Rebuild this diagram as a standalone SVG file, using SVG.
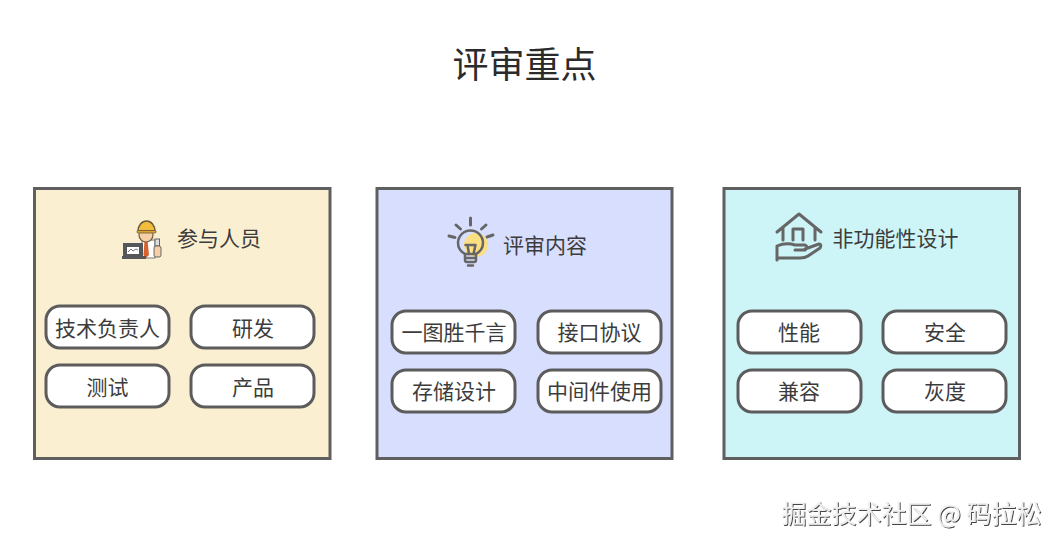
<svg xmlns="http://www.w3.org/2000/svg" width="1059" height="546" viewBox="0 0 1059 546">
<style>
text{font-family:"Noto Sans CJK SC","Liberation Sans",sans-serif;fill:#3c3c3c;text-anchor:middle}
.panel{stroke:#5f5f5f;stroke-width:3}
.item{fill:#fff;stroke:#5c5c5c;stroke-width:3}
.t{font-size:21px}
.ic{fill:none;stroke:#666;stroke-width:3;stroke-linecap:round;stroke-linejoin:round}
.b{stroke-width:2.500}
</style>
<defs>
<filter id="emb" x="-5%" y="-20%" width="110%" height="140%"><feDropShadow dx="1" dy="1" stdDeviation="0.6" flood-color="#444"/></filter>
<rect id="pill" width="123" height="42" rx="14" class="item"/>
</defs>
<rect width="1059" height="546" fill="#fff"/>
<text id="title" x="524.500" y="78" font-size="36" style="fill:#2b2b2b">评审重点</text>

<g id="panel-people">
<rect x="34.500" y="188.500" width="295.500" height="270" fill="#faf0d1" class="panel"/>
<g id="icon-worker">
<rect x="142" y="240" width="13" height="18" fill="#fff" stroke="#777" stroke-width="1"/>
<path d="M144.500 240h3l1.500 15-3 3-2.500-3z" fill="#d8622f"/>
<circle cx="146" cy="235" r="7" fill="#f4cfa8" stroke="#6f5a3f" stroke-width="1.200"/>
<path d="M138 231a8.500 10 0 0 1 17 0z" fill="#f2bd3c" stroke="#6b5a3a" stroke-width="1.500"/>
<rect x="137" y="230.500" width="19" height="2.500" rx="1" fill="#e0a52e" stroke="#6b5a3a" stroke-width="0.800"/>
<rect x="123" y="243" width="20" height="13" fill="#55585a"/>
<rect x="122" y="256" width="24" height="3" fill="#55585a"/>
<rect x="127" y="247" width="12" height="7" fill="#fff"/>
<path d="M128 252l3-3 2 2 3-2 2 1" fill="none" stroke="#555" stroke-width="0.800"/>
<rect x="155" y="239" width="4.500" height="7" fill="#ddd" stroke="#666"/>
<rect x="154" y="246" width="7" height="11" rx="2" fill="#f4cfa8" stroke="#666"/>
</g>
<text x="219" y="245.500" class="t">参与人员</text>
<g id="p1"><use href="#pill" x="46" y="306"/><text x="107.500" y="335.500" class="t">技术负责人</text></g>
<g id="p2"><use href="#pill" x="191" y="306"/><text x="253" y="335.500" class="t">研发</text></g>
<g id="p3"><use href="#pill" x="46" y="365"/><text x="107.500" y="394.500" class="t">测试</text></g>
<g id="p4"><use href="#pill" x="191" y="365"/><text x="253" y="394.500" class="t">产品</text></g>
</g>

<g id="panel-content">
<rect x="377" y="188.500" width="295" height="270" fill="#d8defe" class="panel"/>
<g id="icon-bulb">
<circle cx="476" cy="245" r="12" fill="#fbdf83"/>
<path class="ic b" d="M465 254q-7-4-7-11a12.500 12.500 0 0 1 25 0q0 7-7 11z"/>
<path class="ic b" d="M465.500 245h10l-2 9M467.500 245l1.500 9"/>
<path class="ic b" d="M465 254v6q0 2 2 2h7q2 0 2-2v-6M465 258h11M468 265.500h5"/>
<path class="ic" d="M470.500 218v7M456 225l4.500 4M486 225l-4.500 4M449 236l6 1.500M493 235l-6 2"/>
</g>
<text x="545" y="252.500" class="t">评审内容</text>
<g id="c1"><use href="#pill" x="392" y="311"/><text x="454" y="340" class="t">一图胜千言</text></g>
<g id="c2"><use href="#pill" x="538" y="311"/><text x="599.500" y="340" class="t">接口协议</text></g>
<g id="c3"><use href="#pill" x="392" y="370"/><text x="454" y="399" class="t">存储设计</text></g>
<g id="c4"><use href="#pill" x="538" y="370"/><text x="599.500" y="399" class="t">中间件使用</text></g>
</g>

<g id="panel-nonfunc">
<rect x="724" y="188.500" width="295.500" height="270" fill="#cdf5f8" class="panel"/>
<g id="icon-house">
<path class="ic" d="M777 232l22-18 22 18M783 228v12M815 228v12"/>
<path class="ic" d="M793 240v-11h10v11"/>
<path class="ic" d="M777 260v-14q9-4 18-1h10q4 2 0 5h-10M805 249l14-5q3 0 1 4l-12 8q-3 2-8 2h-23"/>
</g>
<text x="895.500" y="245.500" class="t">非功能性设计</text>
<g id="n1"><use href="#pill" x="738" y="311"/><text x="799" y="340" class="t">性能</text></g>
<g id="n2"><use href="#pill" x="883" y="311"/><text x="945" y="340" class="t">安全</text></g>
<g id="n3"><use href="#pill" x="738" y="370"/><text x="799" y="399" class="t">兼容</text></g>
<g id="n4"><use href="#pill" x="883" y="370"/><text x="945" y="399" class="t">灰度</text></g>
</g>

<text id="watermark" x="911.500" y="523" font-size="25" style="fill:#efefef" filter="url(#emb)">掘金技术社区 @ 码拉松</text>
</svg>
